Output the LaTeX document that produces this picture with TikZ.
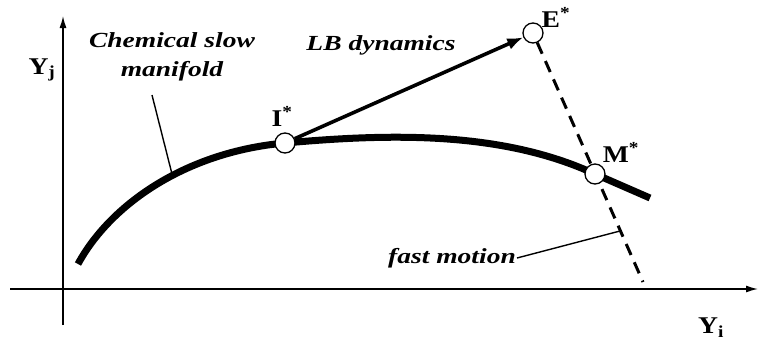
\documentclass[tikz,border=0pt]{standalone}
\usepackage{fontspec}
\setmainfont{Liberation Serif}
\usetikzlibrary{arrows.meta}
\newcommand{\wide}[1]{\scalebox{1.28}[1]{#1}}
\newcommand{\lwide}[1]{\scalebox{1.15}[1]{#1}}
\begin{document}
\begin{tikzpicture}[x=1pt,y=-1pt,
  axis/.style={line width=1.4pt},
  pt/.style={circle,draw,line width=1.3pt,fill=white,minimum size=20pt,inner sep=0pt},
  lbl/.style={font=\fontsize{24}{26}\selectfont\bfseries},
  itl/.style={font=\fontsize{21.5}{25}\selectfont\bfseries\itshape,align=center},
  leader/.style={line width=1.4pt}]
\useasboundingbox (0,0) rectangle (758,346);
% axes
\coordinate (ybot) at (63,325);
\coordinate (ytop) at (63,16);
\coordinate (xl) at (10,289);
\coordinate (xr) at (758,289);
\draw[axis,-{Latex[length=12pt,width=7pt]}] (ybot) -- (ytop);
\draw[axis,-{Latex[length=12pt,width=7pt]}] (xl) -- (xr);
\node[lbl] (yj) at (42,70) {\lwide{Y\textsubscript{j}}};
\node[lbl] (yi) at (711,328) {\lwide{Y\textsubscript{i}}};
% manifold
\draw[line width=7pt] (78,264) .. controls (110,205) and (185,152) .. (285,143)
   .. controls (385,134) and (500,130) .. (595,174) -- (650,198);
\coordinate (cm) at (172,174);
% points
\node[pt] (I) at (285,143) {};
\node[pt] (E) at (533,33) {};
\coordinate (fend) at (643,282);
\draw[line width=3pt,dash pattern=on 12pt off 8pt] (E) -- (fend);
\node[pt] (M) at (595,174) {};
\draw[line width=3.6pt,-{Latex[length=16pt,width=12pt]}] (I) -- (E);
% labels
\node[lbl] (Il) at (282,116) {\lwide{I\textsuperscript{*}}};
\node[lbl] (El) at (556,17) {\lwide{E\textsuperscript{*}}};
\node[lbl] (Ml) at (621,152) {\lwide{M\textsuperscript{*}}};
\node[itl] (csm1) at (172,40) {\wide{Chemical slow}};
\node[itl] (csm2) at (172,71) {\wide{manifold}};
\node[itl] (lb) at (381,45) {\wide{LB dynamics}};
\node[itl,anchor=east,inner sep=1pt] (fm) at (517,258) {\wide{fast motion}};
\coordinate (fmp) at (620,231);
\draw[leader] (152,95) -- (cm);
\draw[leader] (fm.east) -- (fmp);
\end{tikzpicture}
\end{document}
